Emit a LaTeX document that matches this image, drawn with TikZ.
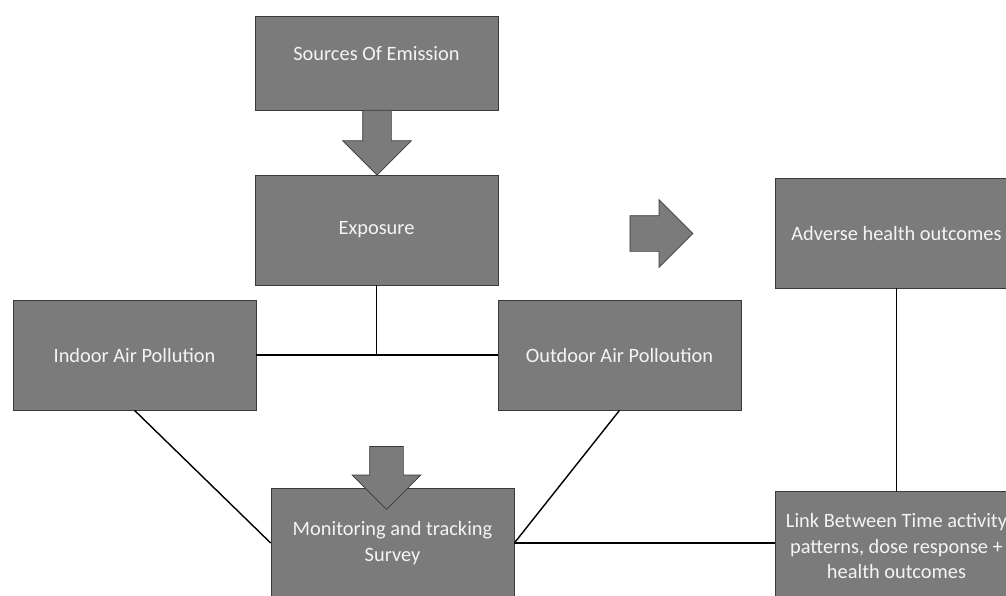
\documentclass[tikz,border=0pt]{standalone}
\usepackage{fontspec}
\setmainfont{Carlito}
\usetikzlibrary{shapes.arrows}

\definecolor{boxgray}{HTML}{7B7B7B}
\definecolor{edgegray}{HTML}{3A3A3A}
\definecolor{txtgray}{HTML}{F4F4F4}

\begin{document}
\begin{tikzpicture}[
        x=0.02cm, y=-0.02cm,
        box/.style={draw=edgegray, fill=boxgray, text=txtgray, align=center,
            font=\fontsize{11.6}{14.6}\selectfont,
            minimum width=4.86cm, minimum height=2.2cm, inner sep=2pt},
        blockarr/.style={single arrow, draw=edgegray, fill=boxgray,
            inner sep=0.28cm, single arrow head extend=0.4cm},
        link/.style={draw=black, line width=0.8pt}
    ]
        \useasboundingbox (0,0) rectangle (1006,595);
        \clip (0,0) rectangle (1006,595);

        % boxes
        \node[box, minimum height=1.88cm, text depth=0.38cm] (src) at (376.5,63) {Sources Of Emission};
        \node[box] (expo) at (376.5,230) {Exposure};
        \node[box] (adv) at (896.5,233) {Adverse health outcomes};
        \node[box] (indoor) at (134.5,355) {Indoor Air Pollution};
        \node[box] (outdoor) at (619.5,355) {Outdoor Air Polloution};
        \node[box] (mon) at (392.5,543) {Monitoring and tracking\\Survey};
        \node[box] (lnk) at (896.5,546) {Link Between Time activity\\patterns, dose response +\\health outcomes};

        % connectors
        \draw[link] (expo.south) -- (expo.south |- indoor.east);
        \draw[link] (indoor.east) -- (outdoor.west);
        \draw[link] (indoor.south) -- (mon.west);
        \draw[link] (outdoor.south) -- (mon.east);
        \draw[link] (mon.east) -- (mon.east -| lnk.west);
        \draw[link] (adv.south) -- (lnk.north);

        % block arrows
        \node[blockarr, rotate=-90, minimum height=1.3cm] (arrA) at (377,135.5) {};
        \node[blockarr, single arrow head extend=0.32cm, inner sep=0.35cm,
            minimum height=1.26cm] (arrB) at (652.5,233.5) {};
        \node[blockarr, rotate=-90, single arrow head extend=0.35cm, inner sep=0.33cm,
            minimum height=1.26cm] (arrC) at (386.5,469.5) {};
    \end{tikzpicture}
\end{document}
